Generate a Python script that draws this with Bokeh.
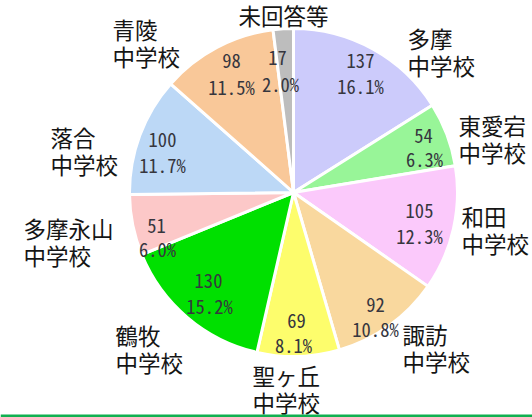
import math
from bokeh.plotting import figure
from bokeh.models import Range1d, ColumnDataSource, Span
from bokeh.core.properties import value
from bokeh.embed import file_html
from bokeh.resources import INLINE

# ---- data ----
schools = ["多摩", "東愛宕", "和田", "諏訪", "聖ヶ丘", "鶴牧", "多摩永山", "落合", "青陵", "未回答等"]
counts = [137, 54, 105, 92, 69, 130, 51, 100, 98, 17]
percents = ["16.1%", "6.3%", "12.3%", "10.8%", "8.1%", "15.2%", "6.0%", "11.7%", "11.5%", "2.0%"]
suffix = ["中学校"] * 9 + [""]

# ---- styles / layout ----
colors = ["#cccbfb", "#98f598", "#fbc9fb", "#f9d89e", "#fdfd6c",
          "#00e000", "#fcc8c8", "#bcd8f6", "#f9c899", "#bdbdbd"]
W, H = 532, 417
CX, CY, R = 293, 192, 164          # pixel coordinates (y downward)
# category label anchors: (x, y of first line, align)
cat_pos = [(407, 37, "left"), (458, 124, "left"), (461, 215, "left"),
           (402, 333, "left"), (252, 374, "left"), (115, 334, "left"),
           (23, 227, "left"), (50, 136, "left"), (112, 28, "left"),
           (283, 14, "center")]
# value label anchors: (x count, y count, x pct, y pct)
val_pos = [(360, 60, 360, 85), (423, 135, 424, 158), (419, 210, 419, 235),
           (375, 304, 375, 328), (296, 320, 293, 344), (208, 280, 209, 305),
           (156, 225, 157, 248), (162, 139, 162, 164), (231, 60, 231, 86),
           (277, 57, 280, 83)]
LINE = 27

def fy(y):
    return H - y

total = sum(counts)
starts, ends = [], []
c = 0
for v in counts:
    starts.append(math.pi / 2 - 2 * math.pi * c / total)
    c += v
    ends.append(math.pi / 2 - 2 * math.pi * c / total)

p = figure(width=W, height=H, x_range=Range1d(0, W), y_range=Range1d(0, H),
           output_backend="svg", toolbar_location=None,
           x_axis_type=None, y_axis_type=None, min_border=0)
p.outline_line_color = None
p.grid.visible = False
p.background_fill_color = "white"

src = ColumnDataSource(dict(x=[CX] * len(counts), y=[fy(CY)] * len(counts),
                            start=starts, end=ends, color=colors))
p.wedge(x="x", y="y", radius=R, radius_units="screen", start_angle="start",
        end_angle="end", direction="clock", fill_color="color",
        line_color="white", line_width=3, source=src)

# category labels
cx1, cy1, ct1, ca1 = [], [], [], []
for name, suf, (x, y, al) in zip(schools, suffix, cat_pos):
    cx1.append(x); cy1.append(fy(y)); ct1.append(name); ca1.append(al)
    if suf:
        cx1.append(x); cy1.append(fy(y + LINE)); ct1.append(suf); ca1.append(al)
p.text(x="x", y="y", text="t", text_align="a",
       source=ColumnDataSource(dict(x=cx1, y=cy1, t=ct1, a=ca1)),
       text_font=value("Noto Sans CJK JP"), text_font_size="22.5px",
       text_baseline="middle", text_color="#151515")

# value labels
vx, vy, vt = [], [], []
for cnt, pc, (x1, y1, x2, y2) in zip(counts, percents, val_pos):
    vx += [x1, x2]; vy += [fy(y1), fy(y2)]; vt += [str(cnt), pc]
p.text(x="x", y="y", text="t",
       source=ColumnDataSource(dict(x=vx, y=vy, t=vt)),
       text_font=value("'Noto Sans Mono CJK JP', 'DejaVu Sans Condensed', monospace"),
       text_font_size="18.5px", text_align="center", text_baseline="middle",
       text_color="#36363e")

p.add_layout(Span(location=1.5, dimension="width", line_color="#10b050",
                  line_width=3))

open("out.html", "w").write(file_html(p, INLINE))
